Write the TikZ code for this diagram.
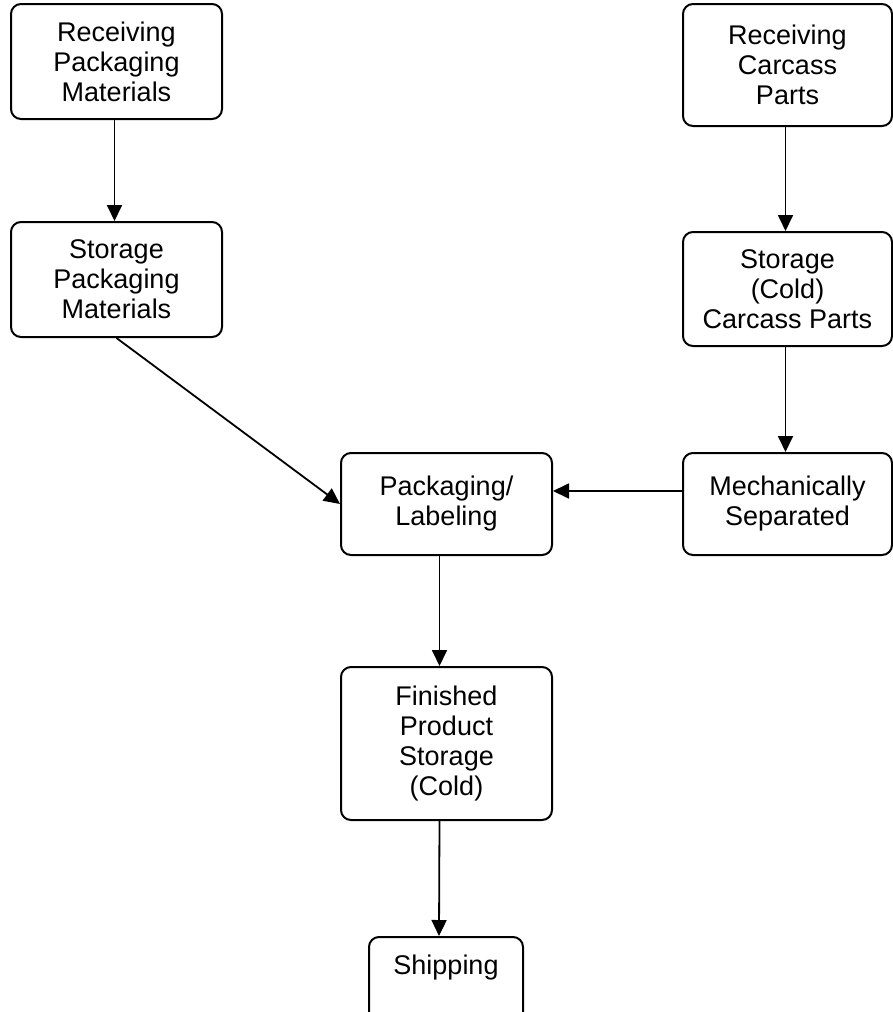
\documentclass[tikz,border=0pt]{standalone}
\usepackage{fontspec}
\setmainfont{Liberation Sans}
\usetikzlibrary{arrows.meta}

\begin{document}
\begin{tikzpicture}[x=1pt,y=-1pt,
    box/.style={draw,line width=2pt,rounded corners=10pt,align=center,
        inner sep=0pt,font=\fontsize{27}{30}\selectfont},
    arr/.style={line width=1.8pt,-{Triangle[length=16pt,width=15pt]}}]
        \clip (0,0) rectangle (893,1012);
        \node[box,minimum width=211pt,minimum height=115pt] (rpm) at (116.5,61.5) {Receiving\\Packaging\\Materials};
        \node[box,minimum width=211pt,minimum height=115pt] (spm) at (116.5,279.5) {Storage\\Packaging\\Materials};
        \node[box,minimum width=209pt,minimum height=122pt] (rcp) at (787.5,65) {Receiving\\Carcass\\Parts};
        \node[box,minimum width=209pt,minimum height=114pt] (scp) at (787.5,289) {Storage\\(Cold)\\Carcass Parts};
        \node[box,minimum width=209pt,minimum height=102pt] (ms) at (787.5,504) {Mechanically\\Separated};
        \node[box,minimum width=211pt,minimum height=102pt] (pl) at (446.5,504) {Packaging/\\Labeling};
        \node[box,minimum width=211pt,minimum height=153pt] (fps) at (446.5,743.5) {Finished\\Product\\Storage\\(Cold)};
        \node[box,minimum width=154pt,anchor=north,inner ysep=10pt,text height=27pt,text depth=80pt] (ship) at (446,936) {Shipping};
        \draw[arr] ([xshift=-2pt]rpm.south) -- ([xshift=-2pt]spm.north);
        \draw[arr] ([xshift=-2pt]rcp.south) -- ([xshift=-2pt]scp.north);
        \draw[arr] ([xshift=-2pt]scp.south) -- ([xshift=-2pt]ms.north);
        \draw[arr] (spm.south) -- (pl.west);
        \draw[arr] ([yshift=13pt]ms.west) -- ([yshift=13pt]pl.east);
        \draw[arr] ([xshift=-7pt]pl.south) -- ([xshift=-7pt]fps.north);
        \draw[arr] ([xshift=-7pt]fps.south) -- ([xshift=-7pt]ship.north);
\end{tikzpicture}
\end{document}
